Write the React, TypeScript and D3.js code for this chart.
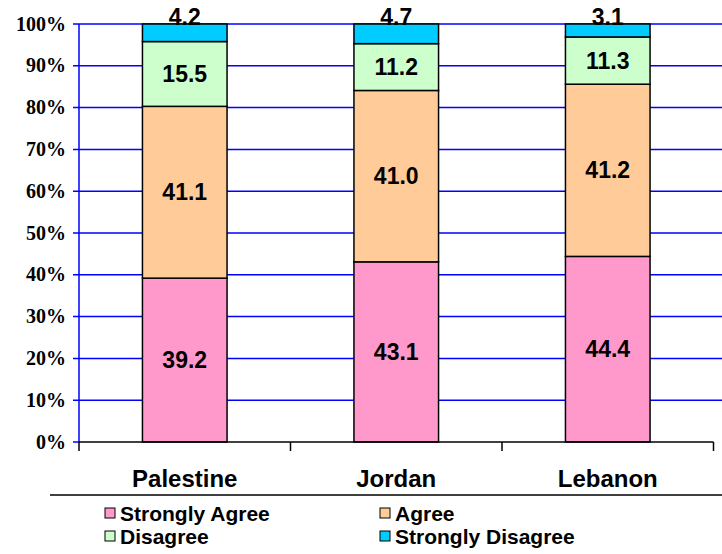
import React from "react";
import * as d3 from "d3";

const categories = ["Palestine", "Jordan", "Lebanon"];
const seriesNames = ["Strongly Agree", "Agree", "Disagree", "Strongly Disagree"];
const stronglyAgree = [39.2, 43.1, 44.4];
const agree = [41.1, 41.0, 41.2];
const disagree = [15.5, 11.2, 11.3];
const stronglyDisagree = [4.2, 4.7, 3.1];
const yTicks = [0, 10, 20, 30, 40, 50, 60, 70, 80, 90, 100];
const colors = ["#FF99CC", "#FFCC99", "#CCFFCC", "#00CCFF"];

export default function App() {
  const W = 722, H = 554;
  const x = d3.scaleBand<string>().domain(categories).range([79, 713.5]).paddingInner(0.6).paddingOuter(0.3);
  const y = d3.scaleLinear().domain([0, 100]).range([442, 24]);
  const series = [stronglyAgree, agree, disagree, stronglyDisagree];
  const rows = categories.map((c, i) => {
    const o: any = { cat: c };
    seriesNames.forEach((s, k) => (o[s] = series[k][i]));
    return o;
  });
  const stacked = d3.stack<any>().keys(seriesNames)(rows);
  const step = x.step();
  const bounds = [0, 1, 2, 3].map((i) => 79 + i * step);
  const sans = "'Liberation Sans', Arial, sans-serif";
  const serif = "'Liberation Serif', 'Times New Roman', serif";
  return (
    <svg width={W} height={H} style={{ position: "absolute", left: 0, top: 0, background: "#fff" }}>
      {yTicks.filter((t) => t > 0).map((t) => (
        <line key={t} x1={73} x2={722} y1={y(t)} y2={y(t)} stroke="#0000FF" strokeWidth={1.5} />
      ))}
      <line x1={73} x2={79} y1={y(0)} y2={y(0)} stroke="#0000FF" strokeWidth={1.5} />
      <line x1={79} x2={79} y1={y(100)} y2={y(0)} stroke="#0000FF" strokeWidth={1.5} />
      {yTicks.map((t) => (
        <text key={t} x={66} y={y(t) + 6.5} textAnchor="end" fontFamily={serif} fontWeight="bold" fontSize={20}>
          {t}%
        </text>
      ))}
      {stacked.map((s, k) =>
        s.map((d, i) => (
          <rect key={k + "-" + i} x={x(categories[i])} y={y(d[1])} width={x.bandwidth()} height={y(d[0]) - y(d[1])}
            fill={colors[k]} stroke="#000" strokeWidth={1.5} />
        ))
      )}
      <line x1={79} x2={713.5} y1={y(0)} y2={y(0)} stroke="#000" strokeWidth={1.5} />
      {bounds.map((b, i) => (
        <line key={i} x1={b} x2={b} y1={y(0)} y2={y(0) + 9} stroke="#000" strokeWidth={1.5} />
      ))}
      {stacked.map((s, k) =>
        s.map((d, i) => {
          const cx = (x(categories[i]) as number) + x.bandwidth() / 2;
          const ty = k === 3 ? y(100) + 1 : (y(d[0]) + y(d[1])) / 2 + 8;
          return (
            <text key={"l" + k + "-" + i} x={cx} y={ty} textAnchor="middle" fontFamily={sans} fontWeight="bold" fontSize={23}>
              {(d[1] - d[0]).toFixed(1)}
            </text>
          );
        })
      )}
      {categories.map((c) => (
        <text key={c} x={(x(c) as number) + x.bandwidth() / 2} y={487} textAnchor="middle" fontFamily={sans} fontWeight="bold" fontSize={24}>
          {c}
        </text>
      ))}
      <line x1={50} x2={722} y1={495} y2={495} stroke="#000" strokeWidth={1.5} />
      {seriesNames.map((s, k) => {
        const lx = k % 2 === 0 ? 105 : 380;
        const ly = k < 2 ? 508 : 531;
        return (
          <g key={s}>
            <rect x={lx} y={ly} width={10} height={10} fill={colors[k]} stroke="#000" strokeWidth={1} />
            <text x={lx + 15} y={ly + 13} fontFamily={sans} fontWeight="bold" fontSize={21}>
              {s}
            </text>
          </g>
        );
      })}
    </svg>
  );
}
